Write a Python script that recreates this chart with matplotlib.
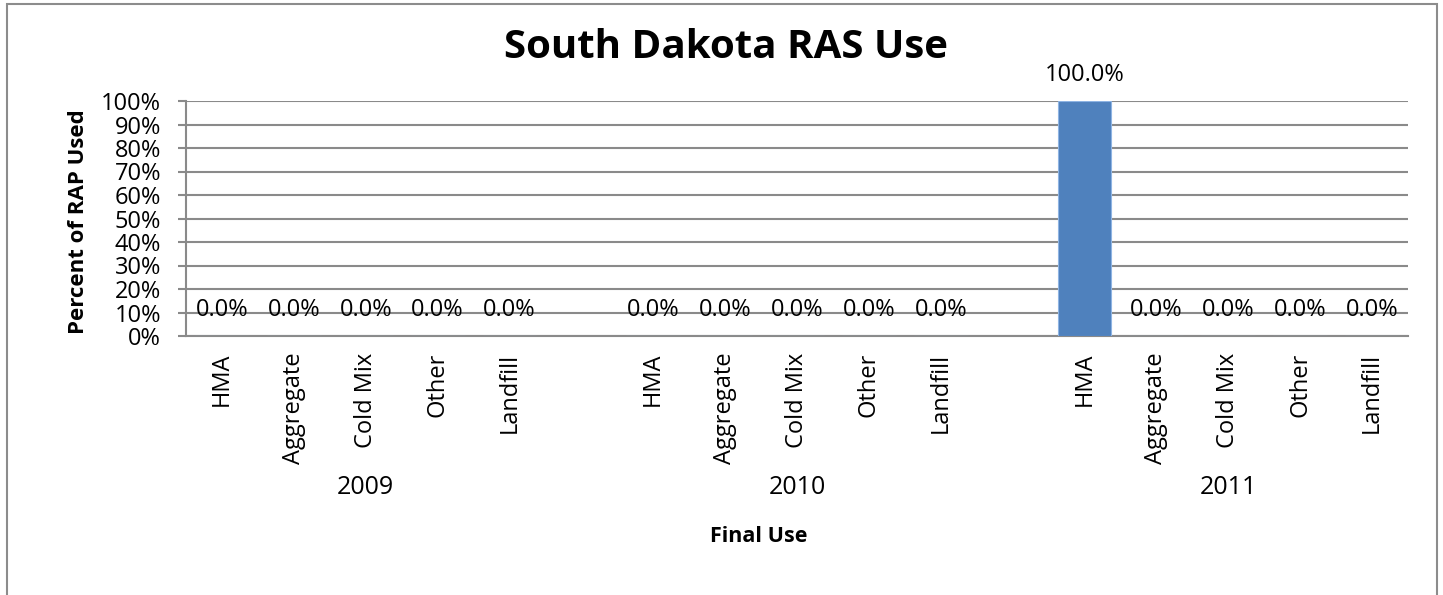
import matplotlib
matplotlib.use("Agg")
import matplotlib.pyplot as plt
from matplotlib.patches import Rectangle
from matplotlib.ticker import FuncFormatter
import matplotlib.transforms as mtransforms

# ---- data ----
years = ["2009", "2010", "2011"]
uses = ["HMA", "Aggregate", "Cold Mix", "Other", "Landfill"]
values_2009 = [0.0, 0.0, 0.0, 0.0, 0.0]
values_2010 = [0.0, 0.0, 0.0, 0.0, 0.0]
values_2011 = [100.0, 0.0, 0.0, 0.0, 0.0]
series = [values_2009, values_2010, values_2011]
yticks = [0, 10, 20, 30, 40, 50, 60, 70, 80, 90, 100]

plt.rcParams['font.family'] = ['Open Sans', 'DejaVu Sans']

W, H = 1443, 595
fig = plt.figure(figsize=(W / 100, H / 100), dpi=100)
fig.patch.set_facecolor("white")

# outer chart border
fig.add_artist(Rectangle((7 / W, -0.02), (1437 - 7) / W, 1 - 4 / H + 0.02,
                         transform=fig.transFigure, fill=False,
                         edgecolor="#8c8c8c", linewidth=1.5))

ax = fig.add_axes([186 / W, 1 - 336 / H, (1408 - 186) / W, (336 - 101) / H])

grid_color = "#8a8a8a"
positions, heights, labels = [], [], []
group_centers = []
slot = 0
for gi, vals in enumerate(series):
    start = slot
    for u, v in zip(uses, vals):
        positions.append(slot)
        heights.append(v)
        labels.append(u)
        slot += 1
    group_centers.append((start + slot - 1) / 2)
    slot += 1  # empty slot between groups

bars = ax.bar(positions, heights, width=0.75, color="#4f81bd",
              edgecolor="#8eb4e3", linewidth=0.8, zorder=3)

for p, h in zip(positions, heights):
    ax.annotate(f"{h:.1f}%", xy=(p, h), xytext=(0, 18.5),
                textcoords="offset points", ha="center", va="center",
                fontsize=17, color="black", zorder=4)

ax.set_xlim(-0.5, slot - 1 - 0.5)
ax.set_ylim(0, 100)
ax.set_yticks(yticks)
ax.yaxis.set_major_formatter(FuncFormatter(lambda v, _: f"{v:.0f}%"))
ax.grid(axis="y", color=grid_color, linewidth=1.5, zorder=0)
ax.set_axisbelow(True)

ax.set_xticks(positions)
ax.set_xticklabels(labels, rotation=90, fontsize=17, va="top")
ax.tick_params(axis="x", length=0, pad=12)
ax.tick_params(axis="y", length=6, width=1.5, color=grid_color,
               labelsize=17, pad=12)

for s in ["top", "right"]:
    ax.spines[s].set_visible(False)
ax.spines["left"].set_color(grid_color)
ax.spines["left"].set_linewidth(1.5)
ax.spines["bottom"].set_color(grid_color)
ax.spines["bottom"].set_linewidth(1.5)

# group labels
trans = mtransforms.blended_transform_factory(ax.transData, fig.transFigure)
for y, c in zip(years, group_centers):
    ax.text(c, 1 - 488 / H, y, transform=trans, ha="center", va="center",
            fontsize=18)

fig.text(759 / W, 1 - 537 / H, "Final Use", ha="center",
         va="center", fontsize=15.5, fontweight="bold")
fig.text(726 / W, 1 - 48 / H, "South Dakota RAS Use", ha="center",
         va="center", fontsize=29, fontweight="bold")
fig.text(78 / W, 1 - 222 / H, "Percent of RAP Used", ha="center",
         va="center", rotation=90, fontsize=16, fontweight="bold")

fig.savefig("out.png", dpi=100)
